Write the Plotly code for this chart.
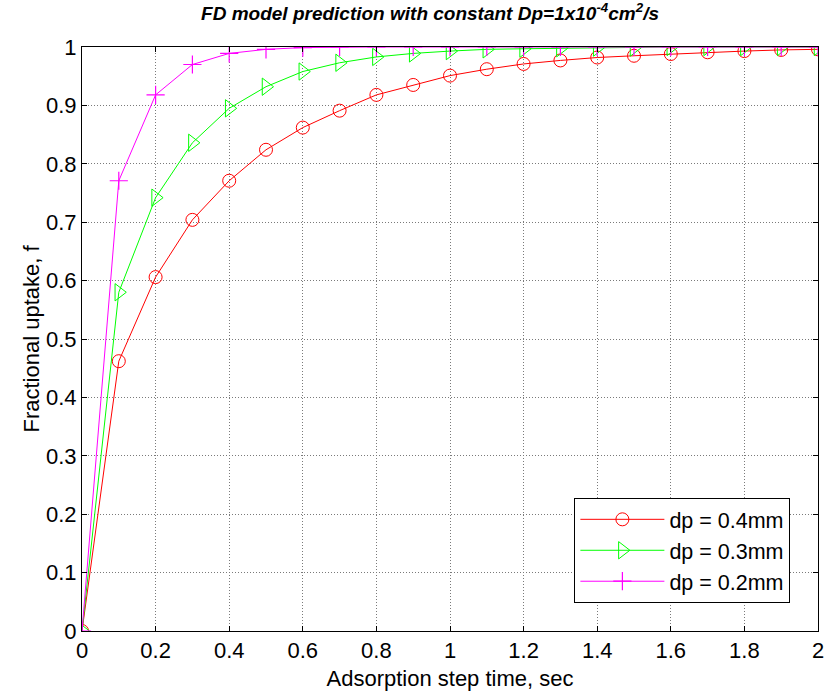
import plotly.graph_objects as go

t = [round(0.1 * i, 1) for i in range(21)]
f_04 = [0, 0.462, 0.606, 0.704, 0.771, 0.824, 0.862, 0.891, 0.918, 0.935, 0.951,
        0.962, 0.971, 0.977, 0.982, 0.985, 0.988, 0.991, 0.993, 0.995, 0.996]
f_03 = [0, 0.580, 0.742, 0.836, 0.895, 0.932, 0.958, 0.973, 0.983, 0.989, 0.993,
        0.996, 0.997, 0.998, 0.999, 0.999, 1.0, 1.0, 1.0, 1.0, 1.0]
f_02 = [0, 0.771, 0.918, 0.970, 0.989, 0.996, 0.999, 1.0, 1.0, 1.0, 1.0,
        1.0, 1.0, 1.0, 1.0, 1.0, 1.0, 1.0, 1.0, 1.0, 1.0]
labels = ["dp = 0.4mm", "dp = 0.3mm", "dp = 0.2mm"]
x_ticks = [0, 0.2, 0.4, 0.6, 0.8, 1, 1.2, 1.4, 1.6, 1.8, 2]
x_ticktext = ["0", "0.2", "0.4", "0.6", "0.8", "1", "1.2", "1.4", "1.6", "1.8", "2"]
y_ticks = [0, 0.1, 0.2, 0.3, 0.4, 0.5, 0.6, 0.7, 0.8, 0.9, 1]
y_ticktext = ["0", "0.1", "0.2", "0.3", "0.4", "0.5", "0.6", "0.7", "0.8", "0.9", "1"]

FONT = "Liberation Sans, Arial"

fig = go.Figure()
fig.add_trace(go.Scatter(x=t, y=f_04, name=labels[0], mode="lines+markers",
                         line=dict(color="#FF0000", width=1),
                         marker=dict(symbol="circle-open", size=13, color="#FF0000",
                                     line=dict(width=1, color="#FF0000"))))
fig.add_trace(go.Scatter(x=t, y=f_03, name=labels[1], mode="lines+markers",
                         line=dict(color="#00FF00", width=1),
                         marker=dict(symbol="triangle-right-open", size=15, color="#00FF00",
                                     line=dict(width=1, color="#00FF00"))))
fig.add_trace(go.Scatter(x=t, y=f_02, name=labels[2], mode="lines+markers",
                         line=dict(color="#FF00FF", width=1),
                         marker=dict(symbol="cross-thin-open", size=13, color="#FF00FF",
                                     line=dict(width=1.2, color="#FF00FF"))))

axis_common = dict(showline=True, linecolor="black", linewidth=1, mirror="ticks",
                   ticks="inside", ticklen=5, tickcolor="black",
                   showgrid=True, gridcolor="#7a7a7a", griddash="1px,2px", gridwidth=1,
                   zeroline=False, tickfont=dict(family=FONT, size=22, color="black"))

fig.update_layout(
    width=835, height=698,
    margin=dict(l=82, r=11, t=47, b=67),
    paper_bgcolor="white", plot_bgcolor="white",
    title=dict(text="<b><i>FD model prediction with constant Dp=1x10<sup>-4</sup>cm<sup>2</sup>/s</i></b>",
               xref="container", x=0.515, xanchor="center", y=0.99, yanchor="top",
               font=dict(family=FONT, size=19, color="black")),
    xaxis=dict(range=[0, 2], tickvals=x_ticks, ticktext=x_ticktext,
               title=dict(text="Adsorption step time, sec", standoff=8,
                          font=dict(family=FONT, size=22, color="black")),
               **axis_common),
    yaxis=dict(range=[0, 1], tickvals=y_ticks, ticktext=y_ticktext,
               title=dict(text="Fractional uptake, f", standoff=0,
                          font=dict(family=FONT, size=22, color="black")),
               **axis_common),
    legend=dict(x=0.669, y=0.228, xanchor="left", yanchor="top",
                bgcolor="white", bordercolor="black", borderwidth=1,
                font=dict(family=FONT, size=21.5, color="black"),
                itemwidth=84, tracegroupgap=2),
    showlegend=True,
)

fig.write_html("out.html")
